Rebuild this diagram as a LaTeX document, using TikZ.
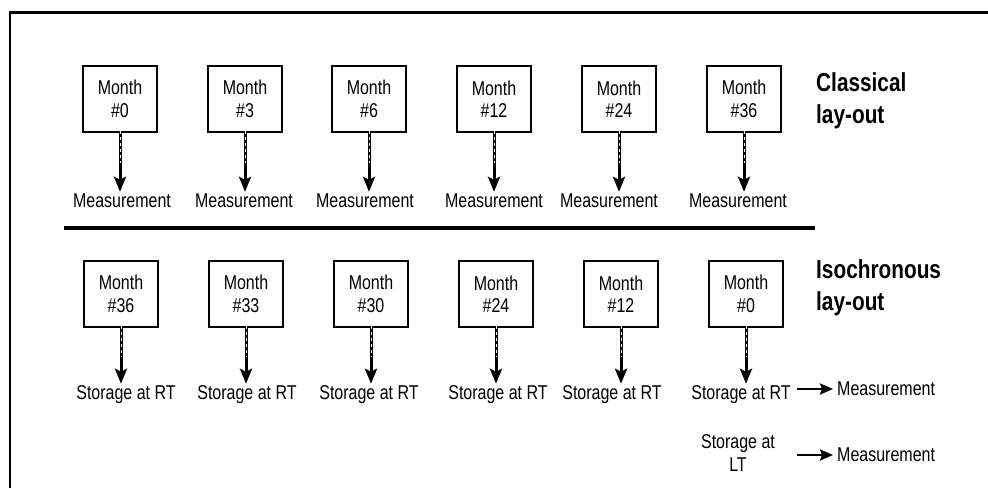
\documentclass[tikz,border=0pt]{standalone}
\usepackage{fontspec}
\setmainfont{Liberation Sans}[FakeStretch=0.8]
\usetikzlibrary{arrows.meta,calc}
\begin{document}
\begin{tikzpicture}[x=1pt,y=-1pt,
  monthbox/.style={draw,line width=1.8pt,minimum width=74pt,minimum height=66pt,
    inner sep=0pt,align=center,font=\fontsize{20}{22.5}\selectfont},
  lbl/.style={inner sep=1pt,align=center,font=\fontsize{20}{23}\selectfont},
  heading/.style={anchor=west,inner sep=0pt,align=left,font=\fontsize{26}{32}\selectfont\bfseries},
  tip/.style={-{Stealth[length=15pt,width=12pt,inset=3pt]}},
  shaft/.style={line width=3pt},
  rarrow/.style={line width=2.4pt,-{Stealth[length=13pt,width=11pt,inset=2pt]}}]
\useasboundingbox (0,0) rectangle (988,488);
% frame
\draw[line width=2.2pt] (10,488) -- (10,12.5) -- (988,12.5);
% separator between the two lay-outs
\draw[line width=3.2pt] (64,228) -- (815,228);

% classical lay-out
\foreach \n/\x/\m/\lx in {0/120/0/122,1/245/3/244,2/369/6/365,3/494/12/494,4/619/24/609,5/744/36/738}{
  \node[monthbox] (c\n) at (\x,99) {Month\\\#\m};
  \node[lbl] (cm\n) at (\lx,201) {Measurement};
}
% isochronous lay-out
\foreach \n/\x/\m/\lx in {0/121/36/126,1/246/33/247,2/371/30/369,3/496/24/498,4/621/12/612,5/746/0/741}{
  \node[monthbox] (i\n) at (\x,294) {Month\\\#\m};
  \node[lbl] (is\n) at (\lx,395) {Storage at RT};
}

% vertical connectors: dashed upper part, solid lower part
\foreach \n in {0,...,5}{
  \coordinate (cmid\n) at ($(c\n.south)!0.5!(c\n.south |- cm\n.north)$);
  \draw[shaft,tip] (c\n.south) -- ([yshift=1pt]c\n.south |- cm\n.north);
  \draw[white,line width=1pt,dash pattern=on 3pt off 3pt] ([yshift=2pt]c\n.south) -- (cmid\n);
  \coordinate (imid\n) at ($(i\n.south)!0.5!(i\n.south |- is\n.north)$);
  \draw[shaft,tip] (i\n.south) -- ([yshift=1pt]i\n.south |- is\n.north);
  \draw[white,line width=1pt,dash pattern=on 3pt off 3pt] ([yshift=2pt]i\n.south) -- (imid\n);
}

\node[heading] (hc) at (816,101) {Classical\\lay-out};
\node[heading] (hi) at (816,288) {Isochronous\\lay-out};

% measurements after storage
\node[lbl,anchor=west] (meas1) at (836,389) {Measurement};
\coordinate (a1) at (797,389);
\draw[rarrow] (a1) -- ([xshift=-3pt]meas1.west);
\node[lbl] (lt) at (738,453) {Storage at\\LT};
\node[lbl,anchor=west] (meas2) at (836,455) {Measurement};
\draw[rarrow] (a1 |- meas2.west) -- ([xshift=-3pt]meas2.west);
\end{tikzpicture}
\end{document}
